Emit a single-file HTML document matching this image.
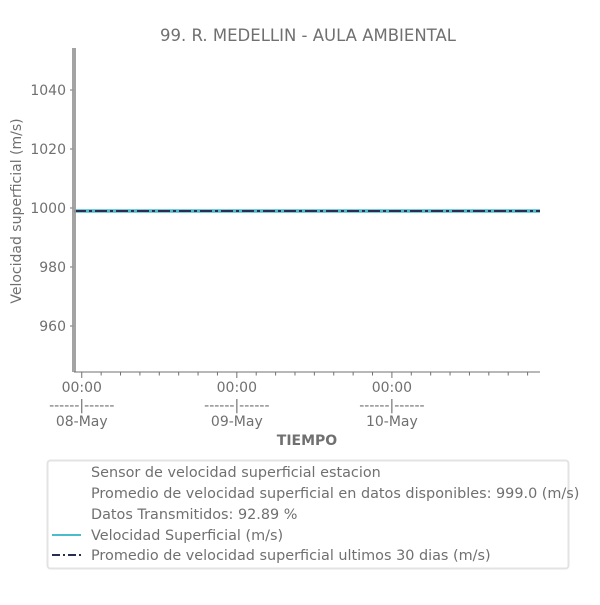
<!DOCTYPE html>
<html><head><meta charset="utf-8"><style>
body{margin:0;background:#fff}
svg text{font-family:"DejaVu Sans","Liberation Sans",sans-serif;fill:#707070}
</style></head><body>
<svg width="600" height="600" viewBox="0 0 600 600">
<text x="308" y="41" font-size="16.5" text-anchor="middle">99. R. MEDELLIN - AULA AMBIENTAL</text>
<g id="yaxis"></g>
<g id="xaxis"></g>
<text transform="translate(21,211) rotate(-90)" font-size="14" text-anchor="middle">Velocidad superficial (m/s)</text>
<text x="307" y="445" font-size="14" font-weight="bold" text-anchor="middle">TIEMPO</text>
<g id="series"></g>
<rect x="72" y="48" width="4" height="324" fill="#999" opacity="0.9"/>
<line x1="74" y1="372" x2="540" y2="372" stroke="#707070" stroke-width="1"/>
<g>
<rect x="47.5" y="460.5" width="521" height="108" rx="3" fill="#fff" stroke="#e3e3e3" stroke-width="2"/>
<text x="91" y="477" font-size="14.4">Sensor de velocidad superficial estacion</text>
<text x="91" y="498" font-size="14.4">Promedio de velocidad superficial en datos disponibles: 999.0 (m/s)</text>
<text x="91" y="519" font-size="14.4">Datos Transmitidos: 92.89 %</text>
<line x1="52" y1="535" x2="81" y2="535" stroke="#4bbccc" stroke-width="2"/>
<text x="91" y="540" font-size="14.4">Velocidad Superficial (m/s)</text>
<line x1="52" y1="555" x2="81" y2="555" stroke="#2a2d52" stroke-width="2" stroke-dasharray="8,3,2,3"/>
<text x="91" y="560" font-size="14.4">Promedio de velocidad superficial ultimos 30 dias (m/s)</text>
</g>
</svg>
<script>
const yTicks=[960,980,1000,1020,1040];
const xDays=[0,1,2];
const xDayLabels=["08-May","09-May","10-May"];
const velTimes=[-0.05,0.5,1.0,1.5,2.0,2.5,2.955];
const velValues=[999,999,999,999,999,999,999];
const avgTimes=[-0.05,2.955];
const avgValues=[999,999];
const NS="http://www.w3.org/2000/svg";
const X0=74,X1=540,Y0=48,Y1=372;
const xMin=-0.05,xMax=2.955;
const xs=t=>X0+(t-xMin)/(xMax-xMin)*(X1-X0);
const ys=v=>90+(1040-v)*2.95;
function mk(tag,attrs,parent){const e=document.createElementNS(NS,tag);for(const k in attrs)e.setAttribute(k,attrs[k]);parent.appendChild(e);return e;}
const ya=document.getElementById('yaxis'),xa=document.getElementById('xaxis'),sg=document.getElementById('series');
yTicks.forEach(v=>{
 const l=mk('line',{x1:X0-4,x2:X0,y1:ys(v),y2:ys(v),stroke:'#707070'},ya);
 
 
 const t=mk('text',{x:X0-8,y:ys(v)+5,'font-size':14,'text-anchor':'end'},ya);
 t.textContent=v;
 
 
});
for(let h=0;h<=2.95*24;h+=3){
 const x=xs(h/24);const major=h%24===0;
 const l=mk('line',{x1:x,x2:x,y1:Y1,y2:Y1+(major?6:3.5),stroke:'#707070'},xa);
 
 
}
xDays.forEach((d,i)=>{
 const x=xs(d);
 [["00:00",392],["------|------",410],[xDayLabels[i],426]].forEach(([s,y])=>{
  const t=mk('text',{x:x,y:y,'font-size':14,'text-anchor':'middle'},xa);
  t.textContent=s;
  
  
 });
});
const vp=mk('polyline',{points:velTimes.map((t,i)=>xs(t)+','+ys(velValues[i])).join(' '),fill:'none',stroke:'#4bbccc','stroke-width':3.5},sg);


const ap=mk('polyline',{points:avgTimes.map((t,i)=>xs(t)+','+ys(avgValues[i])).join(' '),fill:'none',stroke:'#2a2d52','stroke-width':2,'stroke-dasharray':'12,3,3,3'},sg);


</script>
</body></html>
